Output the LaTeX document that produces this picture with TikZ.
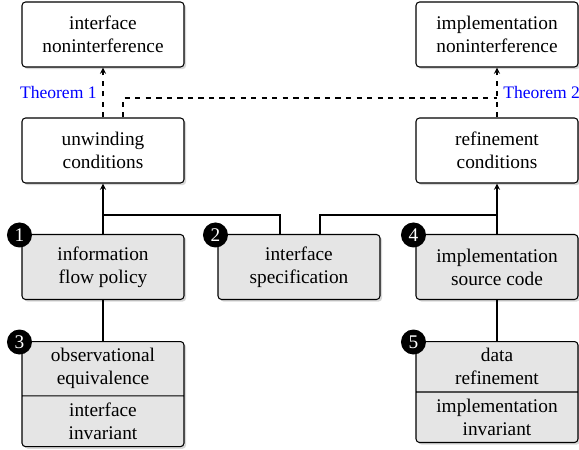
\documentclass[tikz,border=0pt]{standalone}
\usepackage{fontspec}
\setmainfont{Liberation Serif}
\usetikzlibrary{calc,shadows,shapes.multipart}

\tikzset{
	whitebox/.style={draw, semithick, rounded corners=2pt, fill=white, align=center,
		minimum width=3.24cm, minimum height=1.3cm, inner sep=2pt,
		font=\fontsize{11}{13}\selectfont,
		drop shadow={shadow xshift=1.2pt, shadow yshift=-1.2pt, fill=black!30}},
	graybox/.style={whitebox, fill=black!10},
	splitbox/.style={graybox, rectangle split, rectangle split parts=2,
		minimum height=0pt, inner ysep=3.7pt},
	numdot/.style={circle, fill=black, text=white, inner sep=0pt, minimum size=0.5cm,
		font=\fontsize{11}{12}\selectfont},
	thmlabel/.style={text=blue, font=\fontsize{10}{12}\selectfont},
}

\begin{document}
\begin{tikzpicture}[x=0.02cm, y=-0.02cm]
		%%%%% START %%%%%
		\useasboundingbox (0, 0) rectangle (579, 450);
		
		\node[whitebox] (intni) at (103, 34.5) {interface\\noninterference};
		\node[whitebox] (implni) at (497, 34.5) {implementation\\noninterference};
		
		\node[whitebox] (unwind) at (103, 150.5) {unwinding\\conditions};
		\node[whitebox] (refine) at (497, 150.5) {refinement\\conditions};
		
		\node[graybox] (policy) at (103, 267) {information\\flow policy};
		\node[graybox] (spec) at (299, 267) {interface\\specification};
		\node[graybox] (source) at (497, 267) {implementation\\source code};
		
		\node[splitbox, anchor=north] (obs) at (103, 341) {observational\\equivalence \nodepart{two} interface\\invariant};
		\node[splitbox, anchor=north] (datar) at (497, 341) {data\\refinement \nodepart{two} implementation\\invariant};
		
		% theorems
		\draw[semithick, dashed, -stealth] (unwind) -- (intni) node[midway, left, thmlabel] {Theorem 1};
		\draw[semithick, dashed, -stealth] (refine) -- (implni) node[midway, right, thmlabel] {Theorem 2};
		\coordinate (thmjoin) at (497, 98);
		\draw[semithick, dashed] ($(unwind.north)+(20, 0)$) |- (thmjoin);
		
		% inputs
		\draw[semithick, -stealth] (policy) -- (unwind);
		\draw[semithick, -stealth] (source) -- (refine);
		\draw[semithick] ($(spec.north)+(-19, 0)$) |- ($(policy.north)+(0, -19)$);
		\draw[semithick] ($(spec.north)+(21, 0)$) |- ($(source.north)+(0, -19)$);
		\draw[semithick] (policy) -- (obs);
		\draw[semithick] (source) -- (datar);
		
		% numbers
		\node[numdot] (n1) at ($(policy.north west)+(-2, 1)$) {1};
		\node[numdot] (n2) at ($(spec.north west)+(-2, 1)$) {2};
		\node[numdot] (n3) at ($(obs.north west)+(-2, 1)$) {3};
		\node[numdot] (n4) at ($(source.north west)+(-2, 1)$) {4};
		\node[numdot] (n5) at ($(datar.north west)+(-2, 1)$) {5};
		%%%%% END %%%%%
	\end{tikzpicture}
\end{document}
